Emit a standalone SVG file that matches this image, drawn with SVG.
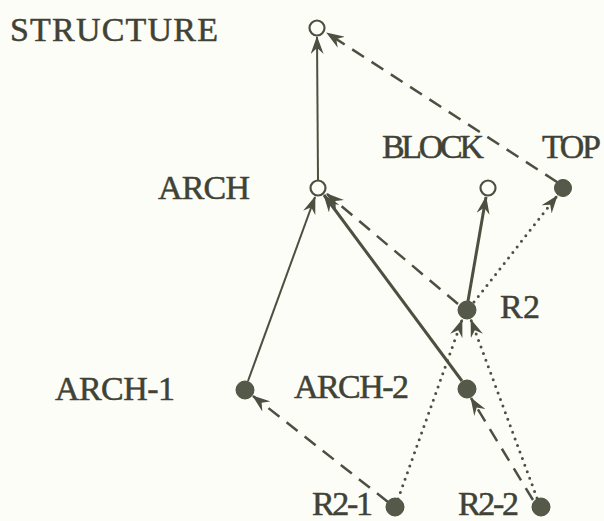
<svg xmlns="http://www.w3.org/2000/svg" width="604" height="521" viewBox="0 0 604 521">
<style>
.lbl{font-family:"Liberation Serif","DejaVu Serif",serif;font-size:34px;fill:#3f4234;stroke:#3f4234;stroke-width:0.5;lengthAdjust:spacingAndGlyphs}
.e{fill:none;stroke:#4d5040}
.solid{stroke-width:2}
.thick{stroke-width:3}
.dash{stroke-width:2.5;stroke-dasharray:14 9}
.dot{stroke-width:3;stroke-dasharray:0 7;stroke-linecap:round}
.open{fill:#fdfdf7;stroke:#4d5040;stroke-width:2.2}
.full{fill:#55594a;stroke:#4d5040;stroke-width:1}
</style>
<defs>
<marker id="ah" viewBox="0 0 18 13" refX="17" refY="6.5" markerWidth="18" markerHeight="13" markerUnits="userSpaceOnUse" orient="auto">
<path d="M0,0 L18,6.5 L0,13 L6,6.5 Z" fill="#4d5040"/>
</marker>
</defs>
<rect width="604" height="521" fill="#fdfdf8"/>
<g id="connectors">
<line class="e solid" x1="318" y1="180" x2="317" y2="37" marker-end="url(#ah)"/>
<line class="e dash" x1="557" y1="182" x2="327" y2="33" marker-end="url(#ah)"/>
<line class="e solid" x1="248" y1="381" x2="315" y2="197" marker-end="url(#ah)"/>
<line class="e thick" x1="462" y1="381" x2="324" y2="195" marker-end="url(#ah)"/>
<line class="e dash" x1="458" y1="304" x2="327" y2="194" marker-end="url(#ah)"/>
<line class="e thick" x1="468" y1="301" x2="486" y2="197" marker-end="url(#ah)"/>
<line class="e dot" x1="474" y1="302" x2="557" y2="196" marker-end="url(#ah)"/>
<line class="e dash" x1="388" y1="502" x2="253" y2="396" marker-end="url(#ah)"/>
<line class="e dot" x1="398" y1="499" x2="462" y2="320" marker-end="url(#ah)"/>
<line class="e dot" x1="537" y1="498" x2="471" y2="320" marker-end="url(#ah)"/>
<line class="e dash" x1="533" y1="500" x2="471" y2="398" marker-end="url(#ah)"/>
</g>
<g id="STRUCTURE"><circle class="open" cx="317" cy="28" r="7.5"/><text class="lbl" x="10" y="41" textLength="208">STRUCTURE</text></g>
<g id="ARCH"><circle class="open" cx="318" cy="188" r="7.5"/><text class="lbl" x="158" y="199" textLength="92">ARCH</text></g>
<g id="BLOCK"><circle class="open" cx="488" cy="188" r="7.5"/><text class="lbl" x="382" y="158" textLength="102">BLOCK</text></g>
<g id="TOP"><circle class="full" cx="563" cy="188" r="8.5"/><text class="lbl" x="542" y="158" textLength="59">TOP</text></g>
<g id="R2"><circle class="full" cx="467" cy="310" r="9"/><text class="lbl" x="500" y="318" textLength="40">R2</text></g>
<g id="ARCH-1"><circle class="full" cx="245" cy="390" r="9"/><text class="lbl" x="55" y="400" textLength="120">ARCH-1</text></g>
<g id="ARCH-2"><circle class="full" cx="467" cy="389" r="9"/><text class="lbl" x="294" y="398" textLength="115">ARCH-2</text></g>
<g id="R2-1"><circle class="full" cx="395" cy="507" r="9"/><text class="lbl" x="312" y="515" textLength="61">R2-1</text></g>
<g id="R2-2"><circle class="full" cx="541" cy="507" r="9"/><text class="lbl" x="458" y="515" textLength="61">R2-2</text></g>
</svg>
